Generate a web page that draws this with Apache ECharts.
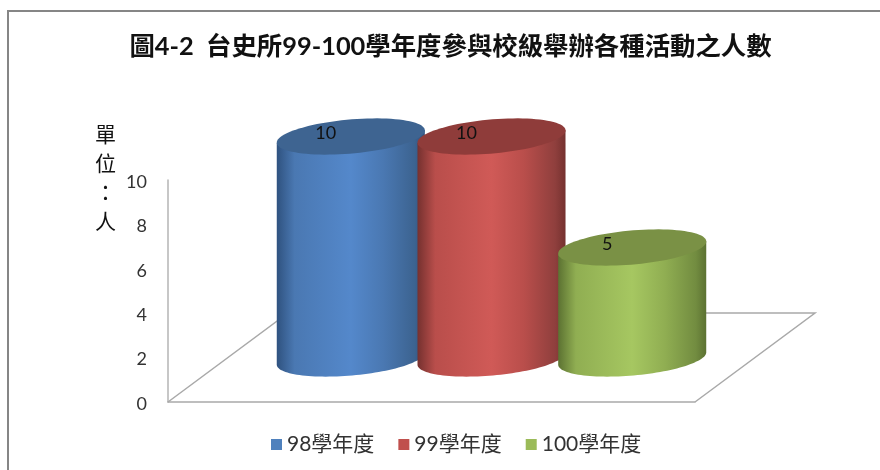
<!DOCTYPE html>
<html><head><meta charset="utf-8">
<style>html,body{margin:0;padding:0;background:#fff}#c{width:880px;height:470px}</style>
<script src="https://cdn.jsdelivr.net/npm/echarts@6/dist/echarts.min.js"></script>
</head><body><div id="c"></div>
<script>
const titleText = '圖4-2  台史所99-100學年度參與校級舉辦各種活動之人數';
const unitText = '單\n位\n：\n人';
const categories = ['人數'];
const seriesNames = ['98學年度', '99學年度', '100學年度'];
const values98 = [10];
const values99 = [10];
const values100 = [5];
const yTicks = { min: 0, max: 10, interval: 2 };

const latin = 'Lato, "Noto Sans CJK TC", sans-serif';
const depthX = 120, depthY = 89;
const palettes = [
  { base: '#4f81bd', top: '#3e6491', dark: '#2f527f', mid: '#4a78b2', peak: '#5488cb', side: '#3c6390' },
  { base: '#c0504d', top: '#8f3c3a', dark: '#75312f', mid: '#b94e4b', peak: '#d05a57', side: '#8f3f3d' },
  { base: '#9bbb59', top: '#7a9145', dark: '#5c7232', mid: '#90ae52', peak: '#a6c761', side: '#728c40' }
];

function ellipsePoint(cx, cy, a, b, rot, t) {
  const c = Math.cos(rot), s = Math.sin(rot);
  const x = a * Math.cos(t), y = b * Math.sin(t);
  return [cx + x * c - y * s, cy + x * s + y * c];
}
function ellipseArc(cx, cy, a, b, rot, from, to, n) {
  const pts = [];
  for (let i = 0; i <= n; i++) pts.push(ellipsePoint(cx, cy, a, b, rot, from + (to - from) * i / n));
  return pts;
}

function cylinder(seriesIndex) {
  const pal = palettes[seriesIndex];
  return function (params, api) {
    const v = api.value(1);
    const zero = api.coord([api.value(0), 0]);
    const size = api.size([1, v]);
    const band = size[0], h = size[1];
    const cx = zero[0] + depthX / 2 + (seriesIndex - 1) * band * 0.267;
    const baseY = zero[1] - depthY / 2 + 1;
    const topY = baseY - h;
    const a = band * 0.141, b = 17, rot = -5 * Math.PI / 180;
    // side wall: base rim along the front, then up to the top ellipse ends
    const baseFront = ellipseArc(cx, baseY, a, b, rot, 0, Math.PI, 60);
    const topLeft = ellipsePoint(cx, topY, a, b, rot, Math.PI);
    const topRight = ellipsePoint(cx, topY, a, b, rot, 0);
    const body = baseFront.concat([topLeft, topRight]);
    const topCap = ellipseArc(cx, topY, a, b, rot, 0, Math.PI * 2, 90);
    return {
      type: 'group',
      children: [
        {
          type: 'polygon', shape: { points: body },
          style: {
            fill: new echarts.graphic.LinearGradient(0, 0, 1, 0, [
              { offset: 0, color: pal.dark }, { offset: 0.12, color: pal.mid },
              { offset: 0.5, color: pal.peak }, { offset: 0.72, color: pal.mid },
              { offset: 0.93, color: pal.side }, { offset: 1, color: pal.dark }
            ])
          }
        },
        { type: 'polygon', shape: { points: topCap }, style: { fill: pal.top } },
        {
          type: 'text',
          style: {
            text: String(v), x: cx - 25, y: topY - 3, align: 'center', verticalAlign: 'middle',
            fill: '#111', font: '18px ' + latin
          }
        }
      ]
    };
  };
}

function floor(params, api) {
  const cs = params.coordSys;
  const x0 = cs.x, y0 = cs.y + cs.height, w = cs.width;
  return {
    type: 'polyline',
    shape: { points: [[x0, y0], [x0 + depthX, y0 - depthY], [x0 + w + depthX, y0 - depthY], [x0 + w, y0]] },
    style: { fill: null, stroke: '#a9a9a9', lineWidth: 1.5 }
  };
}

const chart = echarts.init(document.getElementById('c'), null, { renderer: 'canvas' });
const vals = [values98, values99, values100];
chart.setOption({
  animation: false,
  backgroundColor: '#fff',
  title: {
    text: titleText, left: 445.5, top: 29, textAlign: 'center',
    textStyle: { fontFamily: latin, fontSize: 25.4, fontWeight: 'bold', color: '#111' }
  },
  legend: {
    data: seriesNames, left: 271, top: 434, padding: 0, icon: 'rect', itemWidth: 11, itemHeight: 11, itemGap: 24,
    textStyle: { fontFamily: latin, fontSize: 21, color: '#333' }
  },
  grid: { left: 168, right: 185, top: 180, bottom: 68 },
  xAxis: {
    type: 'category', data: categories,
    axisLine: { show: true, lineStyle: { color: '#a9a9a9', width: 1.5 } },
    axisTick: { show: false }, axisLabel: { show: false }
  },
  yAxis: {
    type: 'value', min: yTicks.min, max: yTicks.max, interval: yTicks.interval,
    axisLine: { show: true, lineStyle: { color: '#b5b5b5', width: 1.5 } },
    axisTick: { show: false }, splitLine: { show: false },
    axisLabel: {
      margin: 21, formatter: '{n|{value}}',
      rich: { n: { fontFamily: latin, fontSize: 18, color: '#333', padding: [4, 0, 0, 0] } }
    }
  },
  graphic: [
    { type: 'polyline', z: -1, silent: true, shape: { points: [[8, 480], [8, 11], [890, 11]] }, style: { fill: null, stroke: '#868686', lineWidth: 2 } },
    { type: 'text', left: 95, top: 120, style: { text: unitText, font: '21px "Noto Sans CJK TC"', lineHeight: 29, fill: '#111', align: 'center' } }
  ],
  series: [
    { type: 'custom', name: 'floor', silent: true, renderItem: floor, data: [[0, 0]], encode: { x: 0, y: 1 } }
  ].concat(seriesNames.map((name, i) => ({
    type: 'custom', name, renderItem: cylinder(i),
    itemStyle: { color: palettes[i].base },
    encode: { x: 0, y: 1 },
    data: vals[i].map((v, k) => [k, v])
  })))
});
</script></body></html>
